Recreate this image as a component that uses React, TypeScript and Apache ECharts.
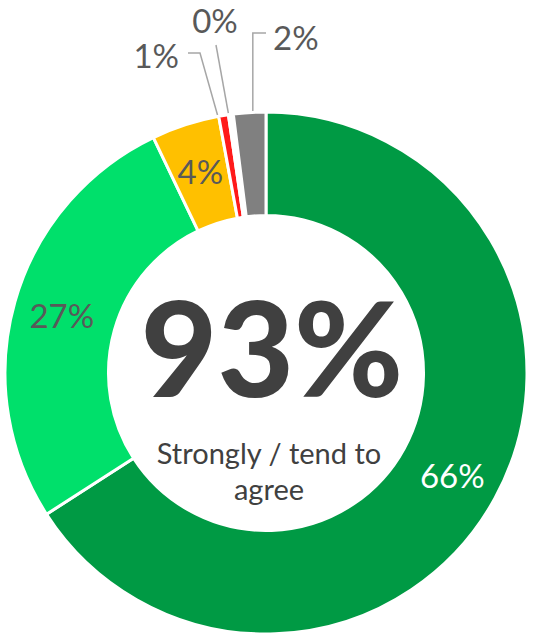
import React, { useEffect, useRef } from "react";
import * as echarts from "echarts";

const categories = [
  "Strongly agree",
  "Tend to agree",
  "Neither agree nor disagree",
  "Tend to disagree",
  "Strongly disagree",
  "Don't know",
];
const values = [65.9, 27.0, 4.2, 0.6, 0.3, 2.0];
const sliceColors = ["#009A44", "#00E06B", "#FFC000", "#FF1A1A", "#FFFFFF", "#808080"];
const summaryLabel = "Strongly / tend to\nagree";

const FONT = "Lato, 'Open Sans', sans-serif";

export default function App() {
  const ref = useRef<HTMLDivElement>(null);

  useEffect(() => {
    if (!ref.current) return;
    const chart = echarts.init(ref.current, null, { renderer: "svg" });
    const cx = 266;
    const cy = 373;
    const total = values.reduce((a, b) => a + b, 0);
    const midAngle = (i: number) => {
      let before = 0;
      for (let k = 0; k < i; k++) before += values[k];
      return ((before + values[i] / 2) / total) * Math.PI * 2;
    };
    const summary = Math.round(values[0] + values[1]) + "%";

    const data = categories.map((name, i) => {
      const outside = i >= 3;
      return {
        name,
        value: values[i],
        itemStyle: { color: sliceColors[i] },
        label: {
          position: outside ? "outside" : "inside",
          color: i === 0 ? "#FFFFFF" : "#595959",
        },
        labelLine: { show: outside },
      };
    });

    chart.setOption({
      animation: false,
      graphic: [
        {
          type: "text",
          style: {
            text: summary,
            x: 272,
            y: 346,
            align: "center",
            verticalAlign: "middle",
            textAlign: "center",
            textVerticalAlign: "middle",
            font: "900 132px Lato, 'Open Sans', sans-serif",
            fontSize: 132,
            fontWeight: 900,
            fontFamily: FONT,
            fill: "#404040",
          },
        },
        {
          type: "text",
          style: {
            text: summaryLabel,
            x: 269,
            y: 470,
            align: "center",
            verticalAlign: "middle",
            textAlign: "center",
            textVerticalAlign: "middle",
            fontSize: 29,
            lineHeight: 36,
            fontFamily: FONT,
            fill: "#404040",
          },
        },
      ],
      series: [
        {
          type: "pie",
          center: [cx, cy],
          radius: [157.5, 261],
          startAngle: 90,
          clockwise: true,
          avoidLabelOverlap: false,
          itemStyle: { borderColor: "#FFFFFF", borderWidth: 3 },
          label: {
            show: true,
            fontSize: 33,
            fontFamily: FONT,
            formatter: (p: any) => Math.round(p.value) + "%",
          },
          labelLine: {
            show: true,
            lineStyle: { color: "#A6A6A6", width: 1.5 },
          },
          labelLayout: (params: any) => {
            const i = params.dataIndex;
            if (i < 3) return {};
            const a = midAngle(i);
            const rm = 210;
            const sx = cx + rm * Math.sin(a);
            const sy = cy - rm * Math.cos(a);
            if (i === 3)
              return {
                x: 179,
                y: 55,
                align: "right",
                verticalAlign: "middle",
                labelLinePoints: [[sx, sy], [200, 53], [188, 53]],
              };
            if (i === 4)
              return {
                x: 215,
                y: 20,
                align: "center",
                verticalAlign: "middle",
                labelLinePoints: [[sx, sy], [216, 45]],
              };
            return {
              x: 273,
              y: 37,
              align: "left",
              verticalAlign: "middle",
              labelLinePoints: [[sx, sy], [sx, 33], [266, 33]],
            };
          },
          data,
        },
      ],
    });
    return () => chart.dispose();
  }, []);

  return (
    <div
      ref={ref}
      style={{ position: "fixed", left: 0, top: 0, width: 534, height: 635, background: "#FFFFFF" }}
    />
  );
}
